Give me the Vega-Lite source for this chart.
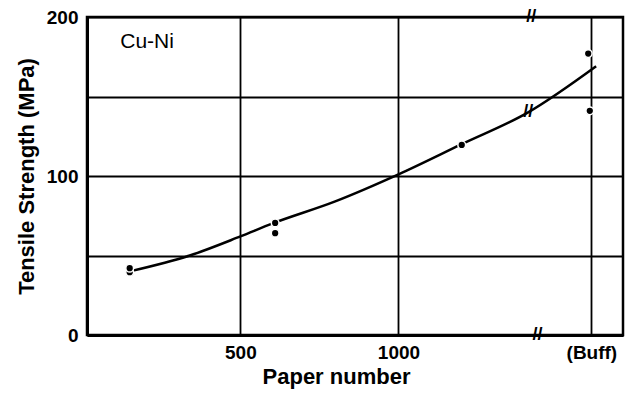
{
  "$schema": "https://vega.github.io/schema/vega-lite/v6.json",
  "width": 536,
  "height": 318,
  "autosize": {"type": "none"},
  "padding": {"left": 87, "top": 17, "right": 6, "bottom": 59},
  "background": "white",
  "config": {
    "view": {"stroke": "black", "strokeWidth": 2.5},
    "font": "Liberation Sans"
  },
  "datasets": {
    "curve": [
      {"paper": 150, "strength": 40},
      {"paper": 340, "strength": 50},
      {"paper": 500, "strength": 62},
      {"paper": 600, "strength": 70},
      {"paper": 800, "strength": 84},
      {"paper": 1000, "strength": 101},
      {"paper": 1200, "strength": 120},
      {"paper": 1410, "strength": 140},
      {"paper": 1625, "strength": 169}
    ],
    "points": [
      {"paper": 150, "strength": 39.5},
      {"paper": 150, "strength": 42},
      {"paper": 610, "strength": 70.5},
      {"paper": 610, "strength": 64},
      {"paper": 1200, "strength": 119.5},
      {"paper": 1600, "strength": 177},
      {"paper": 1605, "strength": 141}
    ],
    "breaks": [
      {"paper": 1420, "strength": 200, "mark": "//"},
      {"paper": 1440, "strength": 0, "mark": "//"},
      {"paper": 1410, "strength": 140, "mark": "//"}
    ],
    "labels": [
      {"paper": 205, "strength": 184, "text": "Cu-Ni"}
    ]
  },
  "layer": [
    {
      "data": {"name": "curve"},
      "mark": {"type": "line", "interpolate": "monotone", "color": "black", "strokeWidth": 2.5},
      "encoding": {
        "x": {
          "field": "paper", "type": "quantitative",
          "scale": {"domain": [15, 1710], "nice": false, "zero": false},
          "axis": {
            "title": "Paper number",
            "titleFontSize": 22, "titleFontWeight": "bold", "titleColor": "black",
            "titleX": 249, "titleY": 48, "titleBaseline": "alphabetic", "titleAlign": "center",
            "values": [500, 1000, 1610],
            "labelExpr": "datum.value == 1610 ? '(Buff)' : format(datum.value, 'd')",
            "labelFontSize": 19, "labelFontWeight": "bold", "labelColor": "black", "labelPadding": 8, "labelDx": 7,
            "ticks": false,
            "grid": true, "gridColor": "black", "gridOpacity": 1, "gridWidth": 1.8,
            "domain": true, "domainColor": "black", "domainWidth": 3
          }
        },
        "y": {
          "field": "strength", "type": "quantitative",
          "scale": {"domain": [0, 200], "nice": false},
          "axis": {
            "title": "Tensile Strength (MPa)",
            "titleFontSize": 22, "titleFontWeight": "bold", "titleColor": "black",
            "titlePadding": 8,
            "values": [0, 50, 100, 150, 200],
            "labelExpr": "datum.value % 100 == 0 ? datum.label : ''",
            "labelFontSize": 19, "labelFontWeight": "bold", "labelColor": "black", "labelPadding": 9,
            "ticks": false,
            "grid": true, "gridColor": "black", "gridOpacity": 1, "gridWidth": 1.8,
            "domain": true, "domainColor": "black", "domainWidth": 3
          }
        }
      }
    },
    {
      "data": {"name": "points"},
      "mark": {"type": "circle", "color": "black", "opacity": 1, "size": 60, "stroke": "white", "strokeWidth": 1.5},
      "encoding": {
        "x": {"field": "paper", "type": "quantitative"},
        "y": {"field": "strength", "type": "quantitative"}
      }
    },
    {
      "data": {"name": "breaks"},
      "mark": {"type": "text", "fontSize": 18, "fontWeight": "bold", "color": "black", "baseline": "middle", "align": "center"},
      "encoding": {
        "x": {"field": "paper", "type": "quantitative"},
        "y": {"field": "strength", "type": "quantitative"},
        "text": {"field": "mark"}
      }
    },
    {
      "data": {"name": "labels"},
      "mark": {"type": "text", "fontSize": 21, "color": "black", "baseline": "middle", "align": "center"},
      "encoding": {
        "x": {"field": "paper", "type": "quantitative"},
        "y": {"field": "strength", "type": "quantitative"},
        "text": {"field": "text"}
      }
    }
  ]
}
